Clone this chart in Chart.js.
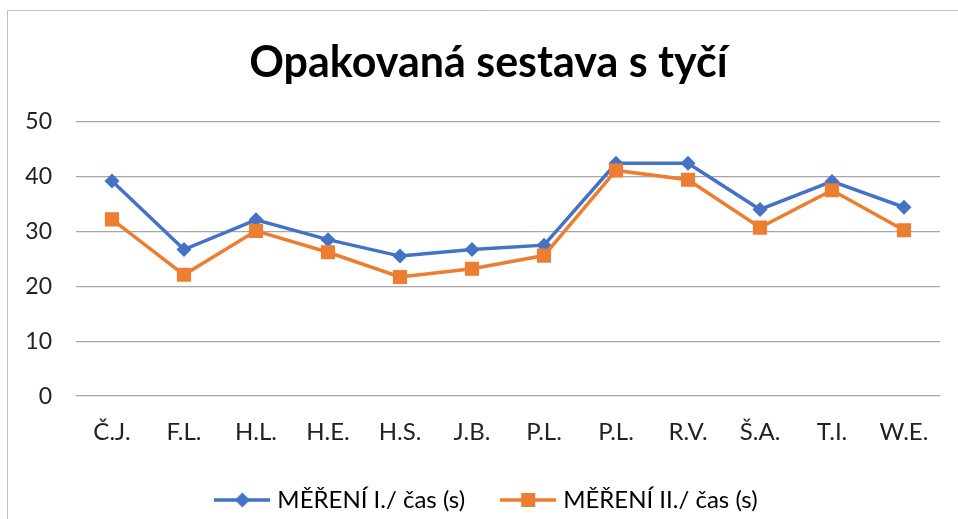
<!DOCTYPE html>
<html>
<head>
<meta charset="utf-8">
<script src="https://cdn.jsdelivr.net/npm/chart.js@4/dist/chart.umd.min.js"></script>
<style>
  html, body { margin: 0; padding: 0; background: #ffffff; }
  #wrap { position: relative; width: 958px; height: 519px; overflow: hidden; }
</style>
</head>
<body>
<div id="wrap"><canvas id="c" width="958" height="519"></canvas></div>
<script>
const chartTitle = 'Opakovaná sestava s tyčí';
const categories = ['Č.J.', 'F.L.', 'H.L.', 'H.E.', 'H.S.', 'J.B.', 'P.L.', 'P.L.', 'R.V.', 'Š.A.', 'T.I.', 'W.E.'];
const seriesNames = ['MĚŘENÍ I./ čas (s)', 'MĚŘENÍ II./ čas (s)'];
const mereni1 = [39.2, 26.7, 32.1, 28.5, 25.5, 26.7, 27.5, 42.4, 42.4, 34.0, 39.1, 34.4];
const mereni2 = [32.2, 22.1, 30.1, 26.2, 21.7, 23.2, 25.6, 41.1, 39.4, 30.7, 37.5, 30.2];
const yTicks = [0, 10, 20, 30, 40, 50];

const BLUE = '#4472C4';
const ORANGE = '#ED7D31';
const FONT = 'Lato';

function legendIcon(color, style) {
  const cv = document.createElement('canvas');
  cv.width = 56; cv.height = 18;
  const g = cv.getContext('2d');
  g.strokeStyle = color; g.lineWidth = 3.5;
  g.beginPath(); g.moveTo(0, 9); g.lineTo(56, 9); g.stroke();
  g.fillStyle = color;
  if (style === 'diamond') {
    g.beginPath(); g.moveTo(28, 1.5); g.lineTo(35.5, 9); g.lineTo(28, 16.5); g.lineTo(20.5, 9); g.closePath(); g.fill();
  } else {
    g.fillRect(21, 2, 14, 14);
  }
  return cv;
}
const icons = [legendIcon(BLUE, 'diamond'), legendIcon(ORANGE, 'square')];

const borderPlugin = {
  id: 'excelBorder',
  beforeDraw(chart) {
    const ctx = chart.ctx;
    ctx.save();
    ctx.strokeStyle = '#bfbfbf';
    ctx.lineWidth = 1;
    ctx.beginPath();
    ctx.moveTo(7.5, 519);
    ctx.lineTo(7.5, 10.5);
    ctx.lineTo(958, 10.5);
    ctx.stroke();
    ctx.restore();
  }
};

new Chart(document.getElementById('c'), {
  type: 'line',
  data: {
    labels: categories,
    datasets: [
      {
        label: seriesNames[0], data: mereni1, order: 1,
        borderColor: BLUE, backgroundColor: BLUE, borderWidth: 3.5, tension: 0,
        pointStyle: 'rectRot', pointRadius: 7.5, pointHoverRadius: 7.5,
        pointBackgroundColor: BLUE, pointBorderColor: BLUE, pointBorderWidth: 0
      },
      {
        label: seriesNames[1], data: mereni2, order: 0,
        borderColor: ORANGE, backgroundColor: ORANGE, borderWidth: 3.5, tension: 0,
        pointStyle: 'rect', pointRadius: 10, pointHoverRadius: 10,
        pointBackgroundColor: ORANGE, pointBorderColor: ORANGE, pointBorderWidth: 0
      }
    ]
  },
  options: {
    responsive: false,
    animation: false,
    layout: { padding: { left: 25, right: 6, top: 0, bottom: -3 } },
    plugins: {
      tooltip: { enabled: false },
      title: {
        display: true, text: chartTitle, color: '#000000',
        font: { family: FONT, size: 43, weight: 'bold' },
        padding: { top: 37, bottom: 33 }
      },
      legend: {
        position: 'bottom',
        labels: {
          usePointStyle: true, pointStyleWidth: 46, boxHeight: 18,
          padding: 40, color: '#222222',
          font: { family: FONT, size: 24 },
          generateLabels(chart) {
            return chart.data.datasets.map((ds, i) => ({
              text: ds.label, pointStyle: icons[i], fillStyle: ds.borderColor,
              strokeStyle: ds.borderColor, lineWidth: 0, hidden: false, datasetIndex: i
            }));
          }
        }
      }
    },
    scales: {
      x: {
        offset: true,
        grid: { display: false, drawTicks: false },
        border: { display: false },
        ticks: { color: '#222222', font: { family: FONT, size: 24 }, padding: 22, maxRotation: 0, autoSkip: false },
        afterFit(s) { s.height = 51.9; }
      },
      y: {
        min: 0, max: 50,
        afterBuildTicks(s) { s.ticks = yTicks.map(v => ({ value: v })); },
        grid: { color: '#a6a6a6', lineWidth: 1.3, drawTicks: false },
        border: { display: false },
        ticks: { color: '#222222', font: { family: FONT, size: 23 }, padding: 24 },
        afterFit(s) { s.width = 51; }
      },
      yRight: {
        type: 'linear', position: 'right', min: 0, max: 50,
        grid: { display: false, drawTicks: false },
        border: { display: false },
        ticks: { display: false },
        afterFit(s) { s.width = 12; }
      }
    }
  },
  plugins: [borderPlugin]
});
</script>
</body>
</html>
